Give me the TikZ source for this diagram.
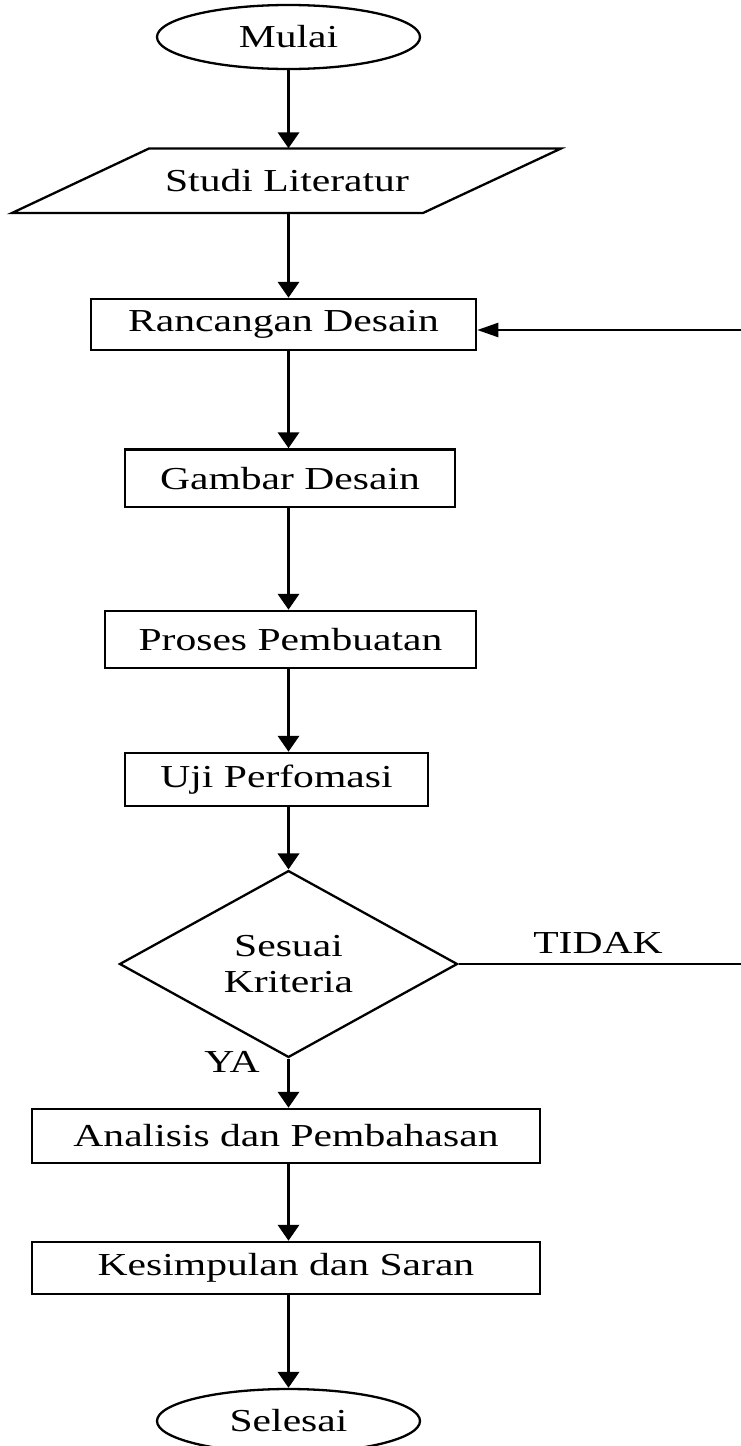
\documentclass[tikz,border=0pt]{standalone}
\usepackage{fontspec}
\setmainfont[FakeStretch=1.3]{Liberation Serif}
\usetikzlibrary{arrows.meta,shapes.geometric}
\newcommand{\flowfont}{\fontsize{32}{36}\selectfont}
\begin{document}
\begin{tikzpicture}[x=1pt,y=-1pt,
  box/.style={draw, line width=2.5pt, inner sep=0pt, font=\flowfont},
  term/.style={draw, ellipse, line width=2.3pt, inner sep=0pt, minimum width=263pt, minimum height=64pt, font=\flowfont},
  vline/.style={line width=3.6pt, -{Triangle[width=21pt,length=16pt]}},
  hline/.style={line width=2.2pt},
  harrow/.style={line width=2.2pt, -{Triangle[width=14pt,length=21pt]}},
  lbl/.style={font=\flowfont, inner sep=0pt}]
\useasboundingbox[fill=white] (0,0) rectangle (741,1446);

% nodes
\node[term] (mulai) at (288.5,37) {Mulai};
\node[font=\flowfont, minimum width=273pt, minimum height=64.5pt, inner sep=0pt] (studi) at (287,180.75) {Studi Literatur};
\draw[line width=2.3pt] (149,148.5) -- (561,148.5) -- (423,213) -- (12,213) -- cycle;
\node[box, minimum width=385pt, minimum height=51pt] (ranc) at (283.5,324.5) {Rancangan Desain};
\node[box, minimum width=330pt, minimum height=57.5pt] (gambar) at (290,478.25) {Gambar Desain};
\node[box, minimum width=371pt, minimum height=57pt] (proses) at (290.5,639.5) {Proses Pembuatan};
\node[box, minimum width=303pt, minimum height=53pt] (uji) at (276.5,779.5) {Uji Perfomasi};
\node[draw, diamond, line width=2.3pt, inner sep=0pt, minimum width=338pt, minimum height=151pt, align=center, font=\flowfont] (dia) at (288.5,964) {Sesuai\\Kriteria};
\node[box, minimum width=508pt, minimum height=54pt] (anal) at (286,1136) {Analisis dan Pembahasan};
\node[box, minimum width=508pt, minimum height=52pt] (kes) at (286,1268) {Kesimpulan dan Saran};
\node[term] (sel) at (288.5,1421) {Selesai};

\node[lbl] (tidak) at (598,943) {TIDAK};
\node[lbl] (ya) at (232,1062) {YA};

\coordinate (r1) at (741,964);
\coordinate (r2) at (741,330);

% connectors
\draw[vline] (mulai.south) -- (studi.north -| mulai.south);
\draw[vline] (studi.south -| mulai.south) -- (ranc.north -| mulai.south);
\draw[vline] (ranc.south -| mulai.south) -- (gambar.north -| mulai.south);
\draw[vline] (gambar.south -| mulai.south) -- (proses.north -| mulai.south);
\draw[vline] (proses.south -| mulai.south) -- (uji.north -| mulai.south);
\draw[vline] (uji.south -| mulai.south) -- (dia.north);
\draw[vline] (dia.south) -- (anal.north -| dia.south);
\draw[vline] (anal.south -| dia.south) -- (kes.north -| dia.south);
\draw[vline] (kes.south -| dia.south) -- (sel.north);
\draw[hline] (dia.east) -- (r1);
\draw[harrow] (r2) -- (ranc.east |- r2);
\end{tikzpicture}
\end{document}
